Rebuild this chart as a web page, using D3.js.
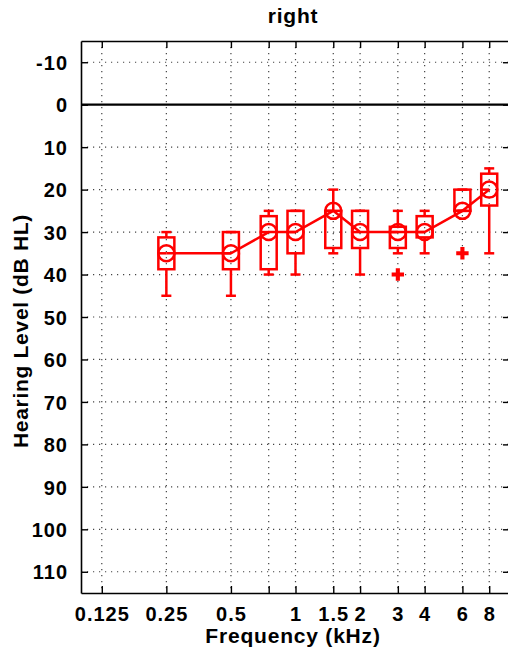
<!DOCTYPE html>
<html>
<head>
<meta charset="utf-8">
<script src="https://cdn.jsdelivr.net/npm/d3@7/dist/d3.min.js"></script>
<style>
  html, body { margin: 0; padding: 0; background: #fff; }
  svg { display: block; }
  text { font-family: "Liberation Sans", Arial, sans-serif; font-weight: bold; fill: #000; }
</style>
</head>
<body>
<svg id="chart" width="508" height="651"></svg>
<script>
// Audiogram box plots, right ear
const freqs    = [0.25, 0.5, 0.75, 1, 1.5, 2, 3, 4, 6, 8];
const whiskLo  = [30, 30, 25, 25, 20, 25, 25, 25, 20, 15];
const q1       = [31.25, 30, 26.25, 25, 25, 25, 28.75, 26.25, 20, 16.25];
const medians  = [35, 35, 30, 30, 25, 30, 30, 30, 25, 20];
const q3       = [38.75, 38.75, 38.75, 35, 33.75, 33.75, 33.75, 31.25, 25, 23.75];
const whiskHi  = [45, 45, 40, 40, 35, 40, 35, 35, 25, 35];
const outlierF = [3, 6];
const outlierV = [40, 35];

const xTicks = [0.125, 0.25, 0.5, 0.75, 1, 1.5, 2, 3, 4, 6, 8];
const xTickLabels = ["0.125", "0.25", "0.5", "", "1", "1.5", "2", "3", "4", "6", "8"];
const yTicks = [-10, 0, 10, 20, 30, 40, 50, 60, 70, 80, 90, 100, 110];

const margin = { left: 81, top: 41, right: 510, bottom: 593 };
const red = "#ff0000";

const svg = d3.select("#chart");
const x = d3.scaleLog().domain([0.1, 10]).range([margin.left, margin.right]);
const y = d3.scaleLinear().domain([-15, 115]).range([margin.top, margin.bottom]);

// dotted grid
const grid = svg.append("g").attr("stroke", "#444").attr("stroke-width", 1.2)
  .attr("stroke-dasharray", "1.2,4.8");
grid.selectAll("line.gx").data(xTicks).join("line")
  .attr("x1", d => x(d)).attr("x2", d => x(d))
  .attr("y1", margin.top).attr("y2", margin.bottom);
grid.selectAll("line.gy").data(yTicks.filter(d => d !== 0)).join("line")
  .attr("x1", margin.left).attr("x2", margin.right)
  .attr("y1", d => y(d)).attr("y2", d => y(d));

// 0 dB reference line
svg.append("line")
  .attr("x1", margin.left).attr("x2", margin.right)
  .attr("y1", y(0)).attr("y2", y(0))
  .attr("stroke", "#000").attr("stroke-width", 2.2);

// axes with inward ticks
const tickLen = 7;
const fmtX = d => xTickLabels[xTicks.indexOf(d)];
const fmtY = d => String(d);
const axB = svg.append("g").attr("transform", `translate(0,${margin.bottom})`)
  .call(d3.axisBottom(x).tickValues(xTicks).tickFormat(fmtX).tickSizeInner(-tickLen).tickSizeOuter(0).tickPadding(14));
const axT = svg.append("g").attr("transform", `translate(0,${margin.top})`)
  .call(d3.axisTop(x).tickValues(xTicks).tickFormat("").tickSizeInner(-tickLen).tickSizeOuter(0));
const axL = svg.append("g").attr("transform", `translate(${margin.left},0)`)
  .call(d3.axisLeft(y).tickValues(yTicks).tickFormat(fmtY).tickSizeInner(-tickLen).tickSizeOuter(0).tickPadding(13));
const axR = svg.append("g").attr("transform", `translate(${margin.right},0)`)
  .call(d3.axisRight(y).tickValues(yTicks).tickFormat("").tickSizeInner(-tickLen).tickSizeOuter(0));

[axB, axT, axL, axR].forEach(a => {
  a.select(".domain").attr("stroke", "#000").attr("stroke-width", 1.6);
  a.selectAll(".tick line").attr("stroke", "#000").attr("stroke-width", 1.4);
  a.selectAll("text").attr("font-size", 20).attr("letter-spacing", 1)
    .attr("font-family", "Liberation Sans, Arial, sans-serif").attr("font-weight", "bold").attr("fill", "#000");
});
axB.selectAll("text").attr("dy", "0.71em");
axL.selectAll("text").attr("dy", "0.36em");

// box plots
const boxW = 16, capW = 10, circR = 8;
const marks = svg.append("g").attr("stroke", red).attr("stroke-width", 2.5).attr("fill", "none");
freqs.forEach((f, i) => {
  const cx = x(f);
  const g = marks.append("g");
  g.append("line").attr("x1", cx).attr("x2", cx).attr("y1", y(whiskLo[i])).attr("y2", y(q1[i]));
  g.append("line").attr("x1", cx).attr("x2", cx).attr("y1", y(q3[i])).attr("y2", y(whiskHi[i]));
  g.append("line").attr("x1", cx - capW / 2).attr("x2", cx + capW / 2).attr("y1", y(whiskLo[i])).attr("y2", y(whiskLo[i]));
  g.append("line").attr("x1", cx - capW / 2).attr("x2", cx + capW / 2).attr("y1", y(whiskHi[i])).attr("y2", y(whiskHi[i]));
  g.append("rect").attr("x", cx - boxW / 2).attr("width", boxW)
    .attr("y", y(q1[i])).attr("height", y(q3[i]) - y(q1[i]));
  g.append("line").attr("x1", cx - boxW / 2).attr("x2", cx).attr("y1", y(medians[i])).attr("y2", y(medians[i]));
  g.append("circle").attr("cx", cx).attr("cy", y(medians[i])).attr("r", circR);
});

// median trend line
marks.append("path")
  .attr("d", d3.line().x((d, i) => x(freqs[i])).y(d => y(d))(medians))
  .attr("stroke-width", 2.5);

// outliers
svg.append("g").selectAll("path").data(outlierF).join("path")
  .attr("d", d3.symbol(d3.symbolCross, 85))
  .attr("transform", (d, i) => `translate(${x(d)},${y(outlierV[i])})`)
  .attr("fill", red);

// titles
svg.append("text").attr("x", 293).attr("y", 23).attr("text-anchor", "middle")
  .attr("font-size", 21).attr("letter-spacing", 0.8).text("right");
svg.append("text").attr("x", 293).attr("y", 643).attr("text-anchor", "middle")
  .attr("font-size", 21).attr("letter-spacing", 0.8).text("Frequency (kHz)");
svg.append("text").attr("transform", "translate(28,331) rotate(-90)").attr("text-anchor", "middle")
  .attr("font-size", 21).attr("letter-spacing", 0.7).text("Hearing Level (dB HL)");
</script>
</body>
</html>
